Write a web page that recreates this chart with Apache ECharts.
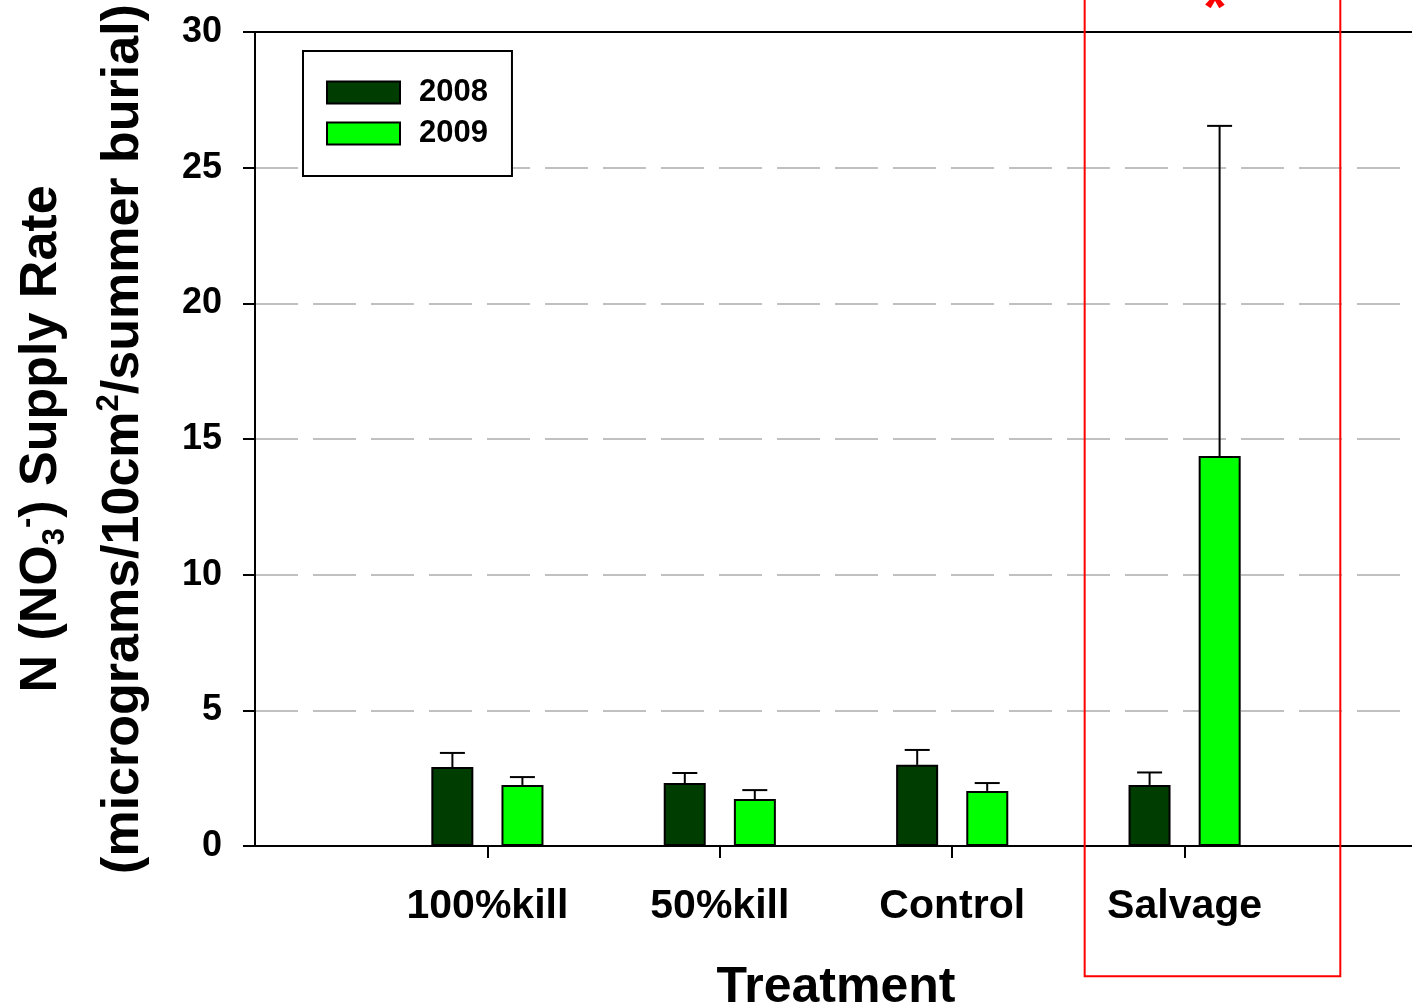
<!DOCTYPE html>
<html>
<head>
<meta charset="utf-8">
<script src="https://cdn.jsdelivr.net/npm/echarts@6/dist/echarts.min.js"></script>
<style>html,body{margin:0;padding:0;background:#fff}#c{width:1412px;height:1005px}</style>
</head>
<body>
<div id="c"></div>
<script>
// ---- data ----
var categories = ['100%kill', '50%kill', 'Control', 'Salvage'];
var categoryPos = [1, 2, 3, 4];
var years = ['2008', '2009'];
var mean2008 = [2.91, 2.32, 2.99, 2.25];
var err2008 = [0.52, 0.37, 0.55, 0.46];
var mean2009 = [2.25, 1.73, 2.03, 14.37];
var err2009 = [0.29, 0.33, 0.29, 12.17];
var yTicks = [0, 5, 10, 15, 20, 25, 30];

var FONT = "'Liberation Sans', Arial, sans-serif";
var BAR_W = 42;
var GAP = 28;
var OFFSET = (BAR_W + GAP) / 2;
var colors = ['#003d00', '#00ff00'];

function pairs(vals) { return vals.map(function (v, i) { return [categoryPos[i], v]; }); }
function errPairs(vals, errs) { return vals.map(function (v, i) { return [categoryPos[i], v, errs[i]]; }); }

function errRender(sign) {
  return function (params, api) {
    var x = api.value(0), m = api.value(1), e = api.value(2);
    var p0 = api.coord([x, m]);
    var p1 = api.coord([x, m + e]);
    var cx = p0[0] + sign * OFFSET;
    var st = { stroke: '#000', lineWidth: 2 };
    return {
      type: 'group',
      children: [
        { type: 'line', shape: { x1: cx, y1: p0[1], x2: cx, y2: p1[1] }, style: st },
        { type: 'line', shape: { x1: cx - 12.5, y1: p1[1], x2: cx + 12.5, y2: p1[1] }, style: st }
      ]
    };
  };
}

var chart = echarts.init(document.getElementById('c'));
var option = {
  animation: false,
  backgroundColor: '#fff',
  textStyle: { fontFamily: FONT },
  grid: { left: 255, top: 32, width: 1162, height: 814, containLabel: false, outerBoundsMode: 'none' },
  legend: {
    data: years,
    orient: 'vertical',
    left: 303, top: 51,
    padding: [26, 24, 27, 23],
    itemWidth: 73, itemHeight: 22, itemGap: 10,
    icon: 'rect',
    borderColor: '#000', borderWidth: 2,
    backgroundColor: '#fff',
    textStyle: { fontFamily: FONT, fontWeight: 'bold', fontSize: 31, color: '#000', padding: [0, 0, 0, 14] }
  },
  xAxis: [{
    type: 'value', min: 0, max: 5, interval: 1,
    name: 'Treatment', nameLocation: 'middle', nameGap: 117,
    nameTextStyle: { fontFamily: FONT, fontWeight: 'bold', fontSize: 50, color: '#000' },
    axisLine: { show: true, onZero: false, lineStyle: { color: '#000', width: 2 } },
    axisTick: { show: true, inside: false, length: 12, customValues: categoryPos, lineStyle: { color: '#000', width: 2 } },
    axisLabel: {
      customValues: categoryPos, margin: 40,
      fontFamily: FONT, fontWeight: 'bold', fontSize: 41, color: '#000',
      formatter: function (v) { var i = categoryPos.indexOf(v); return i >= 0 ? categories[i] : ''; }
    },
    splitLine: { show: false }
  }, {
    type: 'value', min: 0, max: 5, position: 'top',
    axisLine: { show: true, onZero: false, lineStyle: { color: '#000', width: 2 } },
    axisTick: { show: false }, axisLabel: { show: false }, splitLine: { show: false }
  }],
  yAxis: {
    type: 'value', min: yTicks[0], max: yTicks[yTicks.length - 1], interval: 5,
    name: '{a|N (NO}{sub|3}{sup|-}{a|) Supply Rate}\n{a|(micrograms/10cm}{sup|2}{a|/summer burial)}',
    nameLocation: 'middle', nameRotate: 90, nameGap: 90,
    nameTextStyle: {
      fontFamily: FONT, fontWeight: 'bold', fontSize: 52, color: '#000', lineHeight: 82,
      rich: {
        a: { fontFamily: FONT, fontWeight: 'bold', fontSize: 52, color: '#000', lineHeight: 82 },
        sub: { fontFamily: FONT, fontWeight: 'bold', fontSize: 31, color: '#000', padding: [26, 0, 0, 0] },
        sup: { fontFamily: FONT, fontWeight: 'bold', fontSize: 31, color: '#000', padding: [0, 0, 30, 0] }
      }
    },
    axisLine: { show: true, onZero: false, lineStyle: { color: '#000', width: 2 } },
    axisTick: { show: true, inside: false, length: 12, lineStyle: { color: '#000', width: 2 } },
    axisLabel: { margin: 33, fontFamily: FONT, fontWeight: 'bold', fontSize: 36, color: '#000' },
    splitLine: { show: true, lineStyle: { color: '#c0c0c0', width: 2, type: [43, 15] } }
  },
  series: [
    {
      name: years[0], type: 'bar', data: pairs(mean2008),
      barWidth: BAR_W, barGap: (GAP / BAR_W * 100).toFixed(0) + '%',
      itemStyle: { color: colors[0], borderColor: '#000', borderWidth: 2 }
    },
    {
      name: years[1], type: 'bar', data: pairs(mean2009),
      barWidth: BAR_W, barGap: (GAP / BAR_W * 100).toFixed(0) + '%',
      itemStyle: { color: colors[1], borderColor: '#000', borderWidth: 2 }
    },
    {
      name: 'err' + years[0], type: 'custom', renderItem: errRender(-1),
      data: errPairs(mean2008, err2008), z: 3
    },
    {
      name: 'err' + years[1], type: 'custom', renderItem: errRender(1),
      data: errPairs(mean2009, err2009), z: 3
    }
  ]
};
chart.setOption(option);

// red highlight box around Salvage and significance marker
var tl = chart.convertToPixel({ gridIndex: 0 }, [3.57, 33]);
var br = chart.convertToPixel({ gridIndex: 0 }, [4.67, -4.8]);
var star = chart.convertToPixel({ gridIndex: 0 }, [4.13, 31.9]);
chart.setOption({
  graphic: [
    { type: 'rect', z: 100, shape: { x: tl[0], y: tl[1], width: br[0] - tl[0], height: br[1] - tl[1] },
      style: { fill: 'none', stroke: '#ff0000', lineWidth: 2 } },
    { type: 'text', z: 100, x: star[0], y: star[1],
      style: { text: '*', fill: '#ff0000', font: 'bold 60px ' + FONT, textAlign: 'center', textVerticalAlign: 'top' } }
  ]
});
</script>
</body>
</html>
